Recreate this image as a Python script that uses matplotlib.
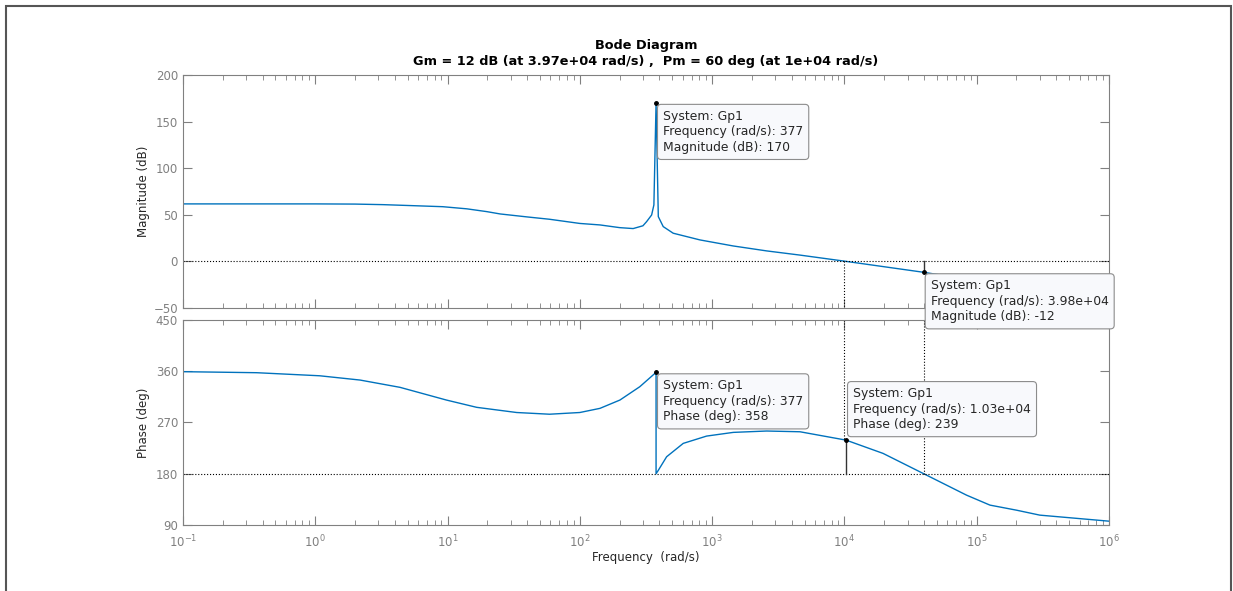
import matplotlib
matplotlib.use("Agg")
import matplotlib.pyplot as plt
from matplotlib.patches import Rectangle

# Magnitude curve (rad/s, dB)
mag_freq = [0.1, 1, 2, 3.25, 5, 9.2, 14, 19.8, 25, 40, 59, 100, 142, 200,
            253, 300, 320, 349, 363, 377, 392, 427, 508, 809, 1445, 2582,
            4613, 10000, 26300, 39800, 100000, 1000000]
mag_db = [61.5, 61.5, 61.3, 60.7, 59.8, 58.5, 56.2, 53.2, 50.7, 47.5, 45,
          40.5, 38.9, 36, 35, 38, 42.5, 49.6, 60.4, 170, 47.8, 37.1, 30, 22.8,
          16.3, 11, 6.5, 0, -8.4, -12, -21, -40]

# Phase curve (rad/s, deg)
ph_freq = [0.1, 0.36, 1.08, 2.18, 4.37, 9.8, 16.6, 33.3, 59, 100, 142, 201,
           284, 377, 377, 392, 453, 605, 908, 1445, 2582, 4613, 10300, 19600,
           39800, 83800, 126000, 200000, 300000, 1000000]
ph_deg = [359.2, 357.4, 352, 344.5, 331.7, 309.4, 296.6, 287.5, 284.5, 287.5,
          294.8, 309.4, 332.8, 358, 180, 186, 209.8, 233.3, 246.1, 252.6, 255,
          253.7, 239, 215.7, 180, 142.4, 124.9, 116, 107.3, 96.7]

# margins
gm_db, gm_freq = 12, 3.97e4
pm_deg, pm_freq = 60, 1e4

mag_ticks = [-50, 0, 50, 100, 150, 200]
ph_ticks = [90, 180, 270, 360, 450]
x_ticks = [1e-1, 1e0, 1e1, 1e2, 1e3, 1e4, 1e5, 1e6]
x_labels = [r"$10^{-1}$", r"$10^{0}$", r"$10^{1}$", r"$10^{2}$",
            r"$10^{3}$", r"$10^{4}$", r"$10^{5}$", r"$10^{6}$"]

# datatips: (axes, freq, value, text, offset in pixels)
tips = [
    (0, 377, 170, "System: Gp1\nFrequency (rad/s): 377\nMagnitude (dB): 170", (7, -7)),
    (0, 3.98e4, -12, "System: Gp1\nFrequency (rad/s): 3.98e+04\nMagnitude (dB): -12", (7, -7)),
    (1, 377, 358, "System: Gp1\nFrequency (rad/s): 377\nPhase (deg): 358", (7, -7)),
    (1, 1.03e4, 239, "System: Gp1\nFrequency (rad/s): 1.03e+04\nPhase (deg): 239", (7, 53)),
]

line_col = "#0072BD"
axis_col = "#808080"
label_col = "#262626"
fs = 8.5

fig = plt.figure(figsize=(12.33, 5.91), dpi=100)
fig.patches.append(Rectangle((6 / 1233, -0.02), 1225 / 1233, 1.0104,
                             transform=fig.transFigure, fill=False,
                             ec="#555555", lw=1.5))

ax1 = fig.add_axes([0.1484, 0.4794, 0.751, 0.3937])
ax2 = fig.add_axes([0.1484, 0.1117, 0.751, 0.3469])
ax1.set_zorder(ax2.get_zorder() + 1)

ax1.plot(mag_freq, mag_db, color=line_col, lw=1)
ax2.plot(ph_freq, ph_deg, color=line_col, lw=1)

# margin lines
ax1.axhline(0, color="k", ls=":", lw=0.8)
ax1.plot([pm_freq, pm_freq], [0, -50], "k:", lw=0.8)
ax1.plot([gm_freq, gm_freq], [0, -gm_db], color="#333333", lw=1)
ax2.axhline(180, color="k", ls=":", lw=0.8)
ax2.plot([gm_freq, gm_freq], [450, 180], "k:", lw=0.8)
ax2.plot([pm_freq, pm_freq], [450, 180 + pm_deg], "k:", lw=0.8)
ax2.plot([1.03e4, 1.03e4], [180 + pm_deg - 1, 180], color="#333333", lw=1)

for ax in (ax1, ax2):
    ax.set_xscale("log")
    ax.set_xlim(1e-1, 1e6)
    ax.set_xticks(x_ticks)
    for s in ax.spines.values():
        s.set_color(axis_col)
    ax.tick_params(which="both", direction="in", top=True, right=True,
                   color=axis_col, labelcolor=axis_col, labelsize=fs)
    ax.tick_params(which="major", length=6.5)
    ax.tick_params(which="minor", length=3.6)
    ax.tick_params(axis="x", pad=6)

ax1.set_ylim(-50, 200)
ax1.set_yticks(mag_ticks)
ax1.set_xticklabels([])
ax1.set_ylabel("Magnitude (dB)", fontsize=fs, color=label_col)

ax2.set_ylim(90, 450)
ax2.set_yticks(ph_ticks)
ax2.set_xticklabels(x_labels)
ax2.set_ylabel("Phase (deg)", fontsize=fs, color=label_col)
ax2.set_xlabel("Frequency  (rad/s)", fontsize=fs, color=label_col, labelpad=1)
ax1.yaxis.set_label_coords(-0.036, 0.5)
ax2.yaxis.set_label_coords(-0.036, 0.5)

axes = [ax1, ax2]
for i, f, v, txt, off in tips:
    ax = axes[i]
    ax.plot([f], [v], "o", color="k", ms=2.5, zorder=11, clip_on=False)
    ax.annotate(txt, xy=(f, v), xytext=off, textcoords="offset pixels",
                ha="left", va="top", fontsize=8.9, color=label_col,
                linespacing=1.25, annotation_clip=False, zorder=12,
                bbox=dict(boxstyle="round,pad=0.45,rounding_size=0.3",
                          fc="#f8f9fc", ec="#8c8c8c", lw=0.8))

fig.text(646 / 1233, 1 - 45 / 591, "Bode Diagram", ha="center", va="center",
         fontsize=9.3, fontweight="bold")
fig.text(646 / 1233, 1 - 62 / 591,
         "Gm = 12 dB (at 3.97e+04 rad/s) ,  Pm = 60 deg (at 1e+04 rad/s)",
         ha="center", va="center", fontsize=9.3, fontweight="bold")

fig.savefig("out.png", dpi=100)
